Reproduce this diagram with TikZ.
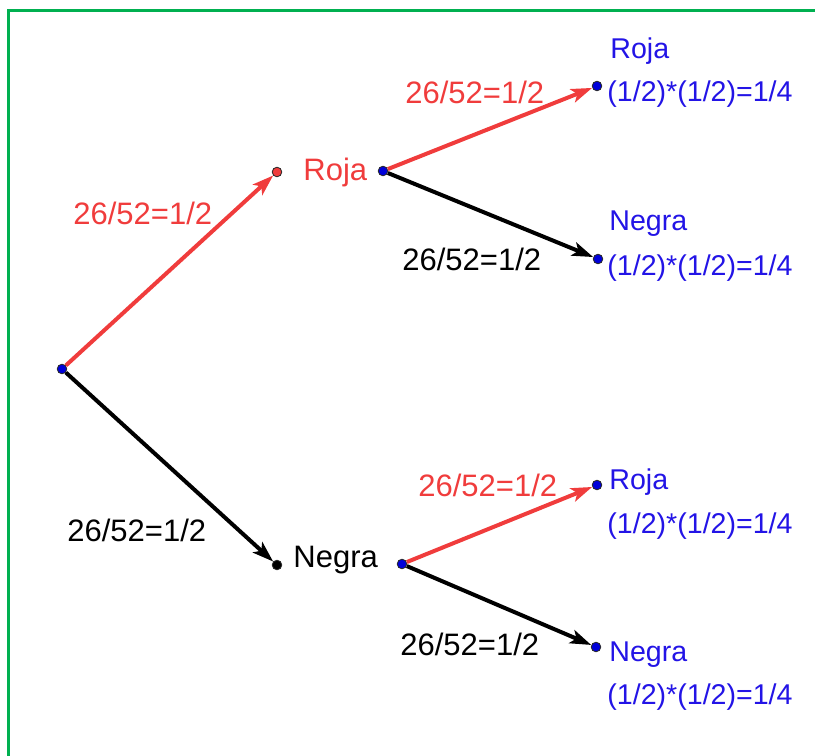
\documentclass[tikz,border=0pt]{standalone}
\usepackage{fontspec}
\setmainfont{Liberation Sans}
\usetikzlibrary{arrows.meta}
\definecolor{rojo}{RGB}{240,60,60}
\definecolor{azul}{RGB}{35,20,230}
\definecolor{verde}{RGB}{0,176,80}
\begin{document}
\begin{tikzpicture}[x=0.5pt,y=-0.5pt,
  pto/.style={draw=black!85,circle,fill=blue!85!black,inner sep=0pt,minimum size=4.8pt,line width=0.4pt},
  lbl/.style={inner sep=0pt,anchor=base west,font=\fontsize{15.5}{18}\selectfont},
  res/.style={inner sep=0pt,anchor=base west,text=azul,font=\fontsize{14.3}{17}\selectfont},
  rama/.style={line width=2pt,-{Stealth[length=10.5pt,width=7pt,inset=2.5pt]}}]
  \useasboundingbox (0,0) rectangle (815,756);
  % frame
  \draw[verde,line width=1.5pt] (8,756) -- (8,10) -- (815,10);
  % points
  \draw (62,369) node[pto] (o) {};
  \draw (277,172) node[pto,fill=rojo] (r) {};
  \draw (277,565) node[pto,fill=black] (n) {};
  \draw (383,171) node[pto] (r0) {};
  \draw (402,564) node[pto] (n0) {};
  \draw (597,86) node[pto] (rr) {};
  \draw (598,259) node[pto] (rn) {};
  \draw (597,485) node[pto] (nr) {};
  \draw (596,647) node[pto] (nn) {};
  %
  % branches
  \path (o) edge[rama,rojo] (r)
        (o) edge[rama,black] (n);
  \path (r0) edge[rama,rojo] (rr)
        (r0) edge[rama,black] (rn)
        (n0) edge[rama,rojo] (nr)
        (n0) edge[rama,black] (nn);
  %
  % first draw
  \draw (303,180) node[lbl,text=rojo] (tr) {Roja};
  \draw (293,567) node[lbl] (tn) {Negra};
  \draw (73,224) node[lbl,text=rojo] (pr) {26/52=1/2};
  \draw (67,541) node[lbl] (pn) {26/52=1/2};
  % second draw
  \draw (405,103) node[lbl,text=rojo] (prr) {26/52=1/2};
  \draw (402,270) node[lbl] (prn) {26/52=1/2};
  \draw (418,496) node[lbl,text=rojo] (pnr) {26/52=1/2};
  \draw (400,655) node[lbl] (pnn) {26/52=1/2};
  % results
  \draw (610,58) node[res] (trr) {Roja};
  \draw (607,101) node[res] (qrr) {(1/2)*(1/2)=1/4};
  \draw (609,230) node[res] (trn) {Negra};
  \draw (607,275) node[res] (qrn) {(1/2)*(1/2)=1/4};
  \draw (609,489) node[res] (tnr) {Roja};
  \draw (607,533) node[res] (qnr) {(1/2)*(1/2)=1/4};
  \draw (609,661) node[res] (tnn) {Negra};
  \draw (607,704) node[res] (qnn) {(1/2)*(1/2)=1/4};
\end{tikzpicture}
\end{document}
